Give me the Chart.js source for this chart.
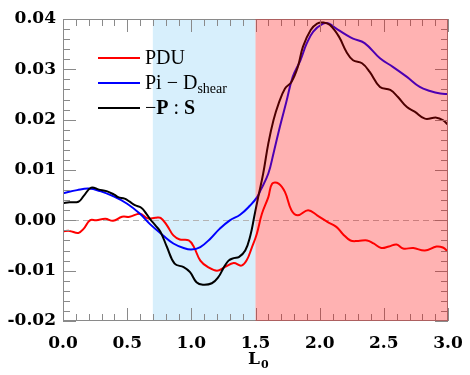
<!DOCTYPE html>
<html>
<head>
<meta charset="utf-8">
<script src="https://cdn.jsdelivr.net/npm/chart.js@4/dist/chart.umd.min.js"></script>
<style>
  html, body { margin: 0; padding: 0; background: #fff; }
</style>
</head>
<body>
<canvas id="c" width="470" height="375"></canvas>
<script>
// PDU (red)
const pduX = [0.0, 0.05, 0.12, 0.16, 0.21, 0.26, 0.33, 0.39, 0.46, 0.52, 0.60, 0.66, 0.72, 0.76, 0.81, 0.86, 0.91, 0.98, 1.02, 1.07, 1.13, 1.20, 1.26, 1.33, 1.39, 1.43, 1.47, 1.51, 1.55, 1.60, 1.63, 1.68, 1.73, 1.78, 1.83, 1.91, 1.98, 2.06, 2.13, 2.18, 2.24, 2.30, 2.37, 2.42, 2.48, 2.54, 2.60, 2.65, 2.73, 2.82, 2.91, 2.96, 3.0]
const pduY = [-0.0022, -0.0021, -0.0025, -0.0017, 0.0000, 0.0000, 0.0003, -0.0001, 0.0007, 0.0007, 0.0013, 0.0004, 0.0005, 0.0005, -0.0010, -0.0030, -0.0038, -0.0040, -0.0053, -0.0080, -0.0093, -0.0100, -0.0093, -0.0085, -0.0090, -0.0080, -0.0055, -0.0027, 0.0013, 0.0046, 0.0073, 0.0073, 0.0056, 0.0020, 0.0010, 0.0020, 0.0010, -0.0003, -0.0013, -0.0027, -0.0040, -0.0041, -0.0040, -0.0046, -0.0055, -0.0052, -0.0048, -0.0056, -0.0055, -0.0060, -0.0052, -0.0054, -0.0062]

// Pi - D_shear (blue)
const piX = [0.0, 0.11, 0.20, 0.29, 0.39, 0.50, 0.60, 0.68, 0.78, 0.86, 0.94, 1.00, 1.07, 1.15, 1.22, 1.30, 1.38, 1.46, 1.51, 1.54, 1.60, 1.64, 1.69, 1.74, 1.79, 1.85, 1.90, 1.95, 2.02, 2.07, 2.13, 2.21, 2.26, 2.35, 2.47, 2.57, 2.68, 2.78, 2.86, 2.94, 3.0]
const piY = [0.0054, 0.0060, 0.0063, 0.0058, 0.0048, 0.0033, 0.0013, -0.0008, -0.0030, -0.0046, -0.0055, -0.0058, -0.0053, -0.0036, -0.0017, 0.0000, 0.0011, 0.0030, 0.0045, 0.0060, 0.0093, 0.0133, 0.0186, 0.0235, 0.0285, 0.0318, 0.0352, 0.0375, 0.0390, 0.0391, 0.0381, 0.0368, 0.0361, 0.0352, 0.0322, 0.0305, 0.0285, 0.0265, 0.0257, 0.0252, 0.0251]

// -P:S (black)
const psX = [0.0, 0.05, 0.12, 0.16, 0.22, 0.28, 0.34, 0.40, 0.43, 0.48, 0.52, 0.56, 0.61, 0.65, 0.68, 0.72, 0.76, 0.81, 0.87, 0.94, 0.99, 1.04, 1.09, 1.16, 1.21, 1.25, 1.29, 1.33, 1.37, 1.42, 1.46, 1.49, 1.52, 1.56, 1.60, 1.64, 1.68, 1.73, 1.78, 1.83, 1.87, 1.93, 1.98, 2.03, 2.08, 2.15, 2.21, 2.26, 2.33, 2.39, 2.47, 2.55, 2.61, 2.68, 2.74, 2.82, 2.91, 2.96, 3.0]
const psY = [0.0034, 0.0036, 0.0037, 0.0048, 0.0065, 0.0061, 0.0058, 0.0051, 0.0046, 0.0043, 0.0037, 0.0030, 0.0025, 0.0013, 0.0002, -0.0010, -0.0023, -0.0053, -0.0086, -0.0093, -0.0103, -0.0123, -0.0128, -0.0125, -0.0113, -0.0095, -0.0080, -0.0075, -0.0073, -0.0060, -0.0030, 0.0007, 0.0045, 0.0093, 0.0153, 0.0199, 0.0232, 0.0262, 0.0275, 0.0305, 0.0345, 0.0378, 0.0391, 0.0393, 0.0388, 0.0365, 0.0334, 0.0318, 0.0312, 0.0295, 0.0265, 0.0259, 0.0245, 0.0225, 0.0216, 0.0202, 0.0204, 0.0199, 0.0190]

const blueBand = [0.7, 1.5]
const pinkBand = [1.5, 3.0]

const pts = (xs, ys) => xs.map((x, i) => ({ x: x, y: ys[i] }))

const frameColor = '#8a8a8a'

const decor = {
  id: 'decor',
  beforeDatasetsDraw(chart) {
    const { ctx, chartArea: a, scales: { x, y } } = chart
    ctx.save()
    ctx.fillStyle = 'rgb(215,239,252)'
    ctx.fillRect(x.getPixelForValue(blueBand[0]), a.top, x.getPixelForValue(blueBand[1]) - x.getPixelForValue(blueBand[0]), a.bottom - a.top)
    ctx.strokeStyle = '#b4b4b4'
    ctx.lineWidth = 1.2
    ctx.setLineDash([6, 4])
    const y0 = Math.round(y.getPixelForValue(0)) + 0.5
    ctx.beginPath()
    ctx.moveTo(a.left, y0)
    ctx.lineTo(a.right, y0)
    ctx.stroke()
    ctx.restore()
  },
  afterDatasetsDraw(chart) {
    const { ctx, chartArea: a, scales: { x, y } } = chart
    ctx.save()
    ctx.strokeStyle = frameColor
    ctx.lineWidth = 1
    // ticks on all four sides, pointing in
    for (let i = 0; i <= 30; i++) {
      const v = i / 10
      const px = Math.round(x.getPixelForValue(v)) + 0.5
      const len = i % 5 === 0 ? 13 : 7
      ctx.beginPath()
      ctx.moveTo(px, a.bottom); ctx.lineTo(px, a.bottom - len)
      ctx.moveTo(px, a.top); ctx.lineTo(px, a.top + len)
      ctx.stroke()
    }
    for (let i = 0; i <= 30; i++) {
      const v = -0.02 + i * 0.002
      const py = Math.round(y.getPixelForValue(v)) + 0.5
      const len = i % 5 === 0 ? 13 : 7
      ctx.beginPath()
      ctx.moveTo(a.left, py); ctx.lineTo(a.left + len, py)
      ctx.moveTo(a.right, py); ctx.lineTo(a.right - len, py)
      ctx.stroke()
    }
    ctx.strokeRect(a.left + 0.5, a.top + 0.5, a.right - a.left - 1, a.bottom - a.top - 1)

    // red translucent band on top of the curves
    const x1 = x.getPixelForValue(pinkBand[0])
    ctx.fillStyle = 'rgba(255,0,0,0.3)'
    ctx.fillRect(x1, a.top, a.right - x1, a.bottom - a.top)

    // legend
    const rows = [
      { color: '#ff0000', y: 58 },
      { color: '#0000ff', y: 83 },
      { color: '#000000', y: 108 }
    ]
    rows.forEach(r => {
      ctx.strokeStyle = r.color
      ctx.lineWidth = 2
      ctx.beginPath()
      ctx.moveTo(98, r.y); ctx.lineTo(140, r.y)
      ctx.stroke()
    })
    ctx.fillStyle = '#000'
    ctx.textBaseline = 'alphabetic'
    ctx.textAlign = 'left'
    const reg = '20px "Liberation Serif"'
    const bld = 'bold 20px "Liberation Serif"'
    ctx.font = reg
    ctx.fillText('PDU', 145, 64)
    let tx = 145
    ctx.fillText('Pi \u2212 D', tx, 89)
    tx += ctx.measureText('Pi \u2212 D').width
    ctx.font = '14px "Liberation Serif"'
    ctx.fillText('shear', tx, 93)
    const parts = [['\u2212', reg], ['P', bld], [' : ', reg], ['S', bld]]
    tx = 145
    parts.forEach(([t, f]) => {
      ctx.font = f
      ctx.fillText(t, tx, 114)
      tx += ctx.measureText(t).width
    })

    // axis title L0
    ctx.font = 'bold 17px "DejaVu Serif"'
    ctx.fillText('L', 248, 364)
    ctx.font = 'bold 11px "DejaVu Serif"'
    ctx.fillText('0', 261, 368)
    ctx.restore()
  }
}

const ds = (label, xs, ys, color, order) => ({
  label: label,
  data: pts(xs, ys),
  borderColor: color,
  borderWidth: 2,
  pointRadius: 0,
  tension: 0.4,
  fill: false,
  order: order
})

new Chart(document.getElementById('c').getContext('2d'), {
  type: 'line',
  data: {
    datasets: [
      ds('PDU', pduX, pduY, '#ff0000', 2),
      ds('Pi - D_shear', piX, piY, '#0000ff', 1),
      ds('-P:S', psX, psY, '#000000', 0)
    ]
  },
  options: {
    responsive: false,
    animation: false,
    layout: { padding: { top: 19, right: 22, left: 0, bottom: 0 } },
    plugins: {
      legend: { display: false },
      tooltip: { enabled: false }
    },
    scales: {
      x: {
        type: 'linear',
        min: 0,
        max: 3,
        grid: { display: false, drawTicks: false },
        border: { display: false },
        ticks: {
          stepSize: 0.5,
          padding: 12,
          color: '#000',
          font: { family: 'DejaVu Serif', weight: 'bold', size: 17 },
          callback: v => v.toFixed(1),
          maxRotation: 0
        },
        afterFit: s => { s.height = 54; s.paddingLeft = 0; s.paddingRight = 0 }
      },
      y: {
        min: -0.02,
        max: 0.04,
        grid: { display: false, drawTicks: false },
        border: { display: false },
        ticks: {
          stepSize: 0.01,
          padding: 7,
          color: '#000',
          font: { family: 'DejaVu Serif', weight: 'bold', size: 17 },
          callback: v => v.toFixed(2)
        },
        afterFit: s => { s.width = 63; s.paddingTop = 0; s.paddingBottom = 0 }
      }
    }
  },
  plugins: [decor]
})
</script>
</body>
</html>
